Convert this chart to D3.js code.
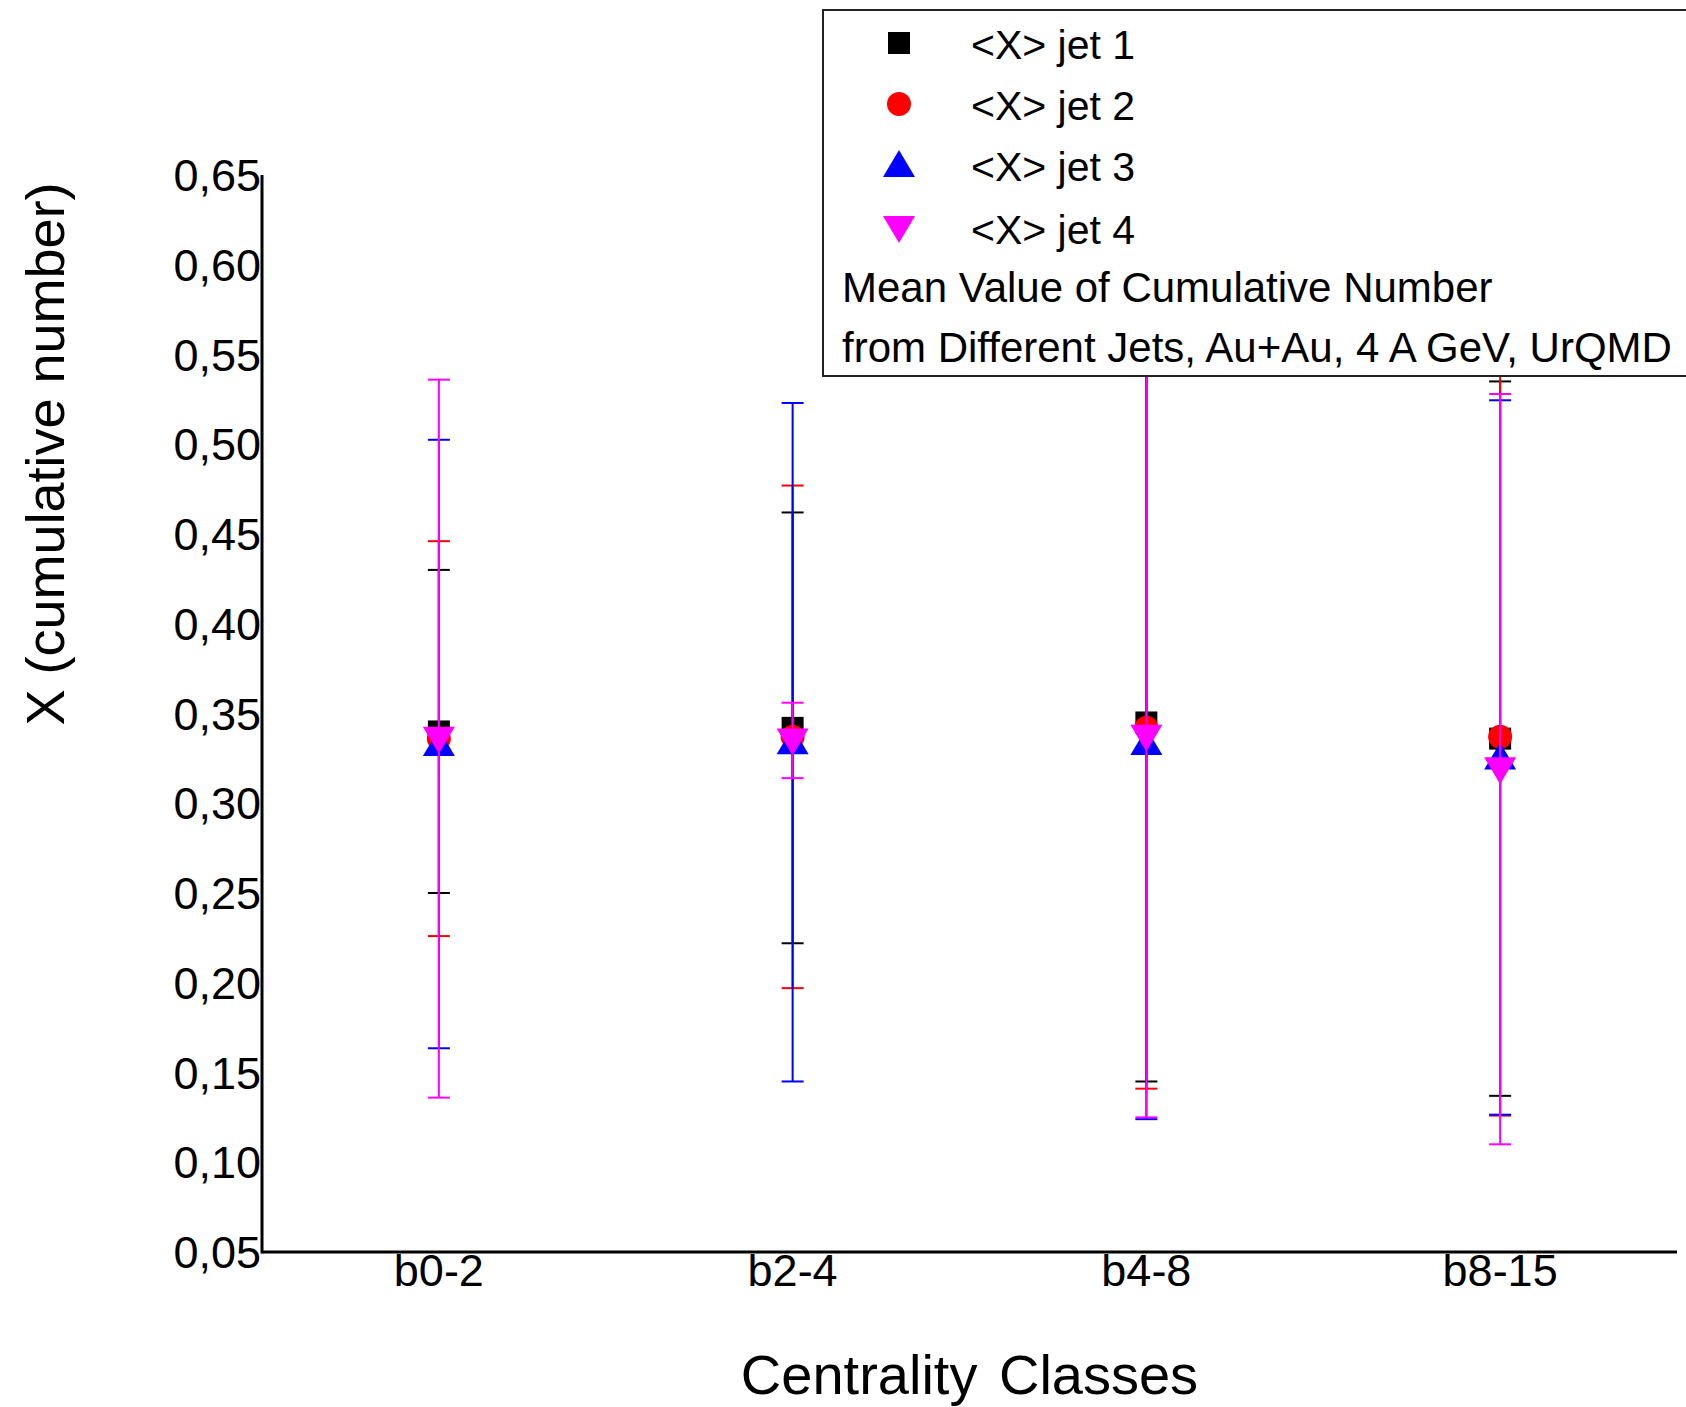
<!DOCTYPE html>
<html>
<head>
<meta charset="utf-8">
<script src="https://cdn.jsdelivr.net/npm/d3@7"></script>
<style>
  body { margin: 0; background: #fff; }
  text { font-family: "Liberation Sans", Arial, sans-serif; fill: #000; }
</style>
</head>
<body>
<svg width="1686" height="1407"></svg>
<script>
// centrality classes on the x axis
const classes = ["b0-2", "b2-4", "b4-8", "b8-15"];

// mean cumulative number per jet and its error (half range of the bar)
const jet1 = [0.340, 0.342, 0.345, 0.336];
const jet1Err = [0.090, 0.120, 0.200, 0.199];
const jet2 = [0.336, 0.337, 0.342, 0.337];
const jet2Err = [0.110, 0.140, 0.201, 0.211];
const jet3 = [0.333, 0.334, 0.3335, 0.3255];
const jet3Err = [0.1695, 0.189, 0.2095, 0.199];
const jet4 = [0.336, 0.335, 0.337, 0.319];
const jet4Err = [0.200, 0.021, 0.212, 0.209];

const yTicks = [0.05, 0.10, 0.15, 0.20, 0.25, 0.30, 0.35, 0.40, 0.45, 0.50, 0.55, 0.60, 0.65];
const legendNames = ["<X> jet 1", "<X> jet 2", "<X> jet 3", "<X> jet 4"];
const legendNote = ["Mean Value of Cumulative Number", "from Different Jets, Au+Au, 4 A GeV, UrQMD"];

const series = [
  { name: legendNames[0], values: jet1, errs: jet1Err, color: "#000000", shape: "square" },
  { name: legendNames[1], values: jet2, errs: jet2Err, color: "#ff0000", shape: "circle" },
  { name: legendNames[2], values: jet3, errs: jet3Err, color: "#0000ff", shape: "up" },
  { name: legendNames[3], values: jet4, errs: jet4Err, color: "#ff00ff", shape: "down" }
];

const svg = d3.select("svg");
const plotLeft = 262, plotRight = 1677, plotTop = 175, plotBottom = 1252;

const x = d3.scalePoint()
  .domain(classes)
  .range([plotLeft, plotRight])
  .padding(0.5);

const y = d3.scaleLinear()
  .domain([0.05, 0.65])
  .range([plotBottom, plotTop]);

// marker outlines centred on 0,0
function shapePath(shape) {
  if (shape === "square") return "M-11,-11H11V11H-11Z";
  if (shape === "circle") return "M-12,0A12,12 0 1,0 12,0A12,12 0 1,0 -12,0Z";
  if (shape === "up") return "M0,-15L16,12H-16Z";
  return "M0,15L16,-12H-16Z";
}

const capW = 11;

// error bars then markers, one series after another
series.forEach(s => {
  const g = svg.append("g");
  const rows = classes.map((c, i) => ({ c: c, v: s.values[i], e: s.errs[i] }));

  const bars = g.selectAll(".bar").data(rows).join("g")
    .attr("stroke", s.color)
    .attr("stroke-width", 2);
  bars.append("line")
    .attr("x1", d => x(d.c)).attr("x2", d => x(d.c))
    .attr("y1", d => y(d.v + d.e)).attr("y2", d => y(d.v - d.e));
  bars.append("line")
    .attr("x1", d => x(d.c) - capW).attr("x2", d => x(d.c) + capW)
    .attr("y1", d => y(d.v + d.e)).attr("y2", d => y(d.v + d.e));
  bars.append("line")
    .attr("x1", d => x(d.c) - capW).attr("x2", d => x(d.c) + capW)
    .attr("y1", d => y(d.v - d.e)).attr("y2", d => y(d.v - d.e));

  g.selectAll(".mark").data(rows).join("path")
    .attr("d", shapePath(s.shape))
    .attr("transform", d => `translate(${x(d.c)},${y(d.v)})`)
    .attr("fill", s.color);
});

// axes
svg.append("line")
  .attr("x1", plotLeft).attr("x2", plotLeft)
  .attr("y1", plotTop).attr("y2", plotBottom + 1.5)
  .attr("stroke", "#000").attr("stroke-width", 3);
svg.append("line")
  .attr("x1", plotLeft).attr("x2", plotRight)
  .attr("y1", plotBottom).attr("y2", plotBottom)
  .attr("stroke", "#000").attr("stroke-width", 3);

svg.selectAll(".ytick").data(yTicks).join("text")
  .attr("x", plotLeft - 1)
  .attr("y", d => y(d) + 16)
  .attr("text-anchor", "end")
  .style("font-size", "45px")
  .text(d => d3.format(".2f")(d).replace(".", ","));

svg.selectAll(".xtick").data(classes).join("text")
  .attr("x", d => x(d))
  .attr("y", 1286)
  .attr("text-anchor", "middle")
  .style("font-size", "45px")
  .text(d => d);

svg.append("text")
  .attr("x", (plotLeft + plotRight) / 2)
  .attr("y", 1394)
  .attr("text-anchor", "middle")
  .style("font-size", "56px")
  .style("word-spacing", "6px")
  .text("Centrality Classes");

svg.append("text")
  .attr("transform", "translate(64,454) rotate(-90)")
  .attr("text-anchor", "middle")
  .style("font-size", "54px")
  .text("X (cumulative number)");

// legend box
const legend = svg.append("g").attr("transform", "translate(823,10)");
legend.append("rect")
  .attr("width", 880).attr("height", 366)
  .attr("fill", "#fff")
  .attr("stroke", "#222").attr("stroke-width", 2);

const rowY = [33, 94, 155, 218];
series.forEach((s, i) => {
  legend.append("path")
    .attr("d", shapePath(s.shape))
    .attr("transform", `translate(76,${rowY[i]})`)
    .attr("fill", s.color);
  legend.append("text")
    .attr("x", 148)
    .attr("y", rowY[i] + 16)
    .style("font-size", "41px")
    .text(s.name);
});

legendNote.forEach((t, i) => {
  legend.append("text")
    .attr("x", 19)
    .attr("y", 292 + i * 60)
    .style("font-size", "42px")
    .text(t);
});
</script>
</body>
</html>
